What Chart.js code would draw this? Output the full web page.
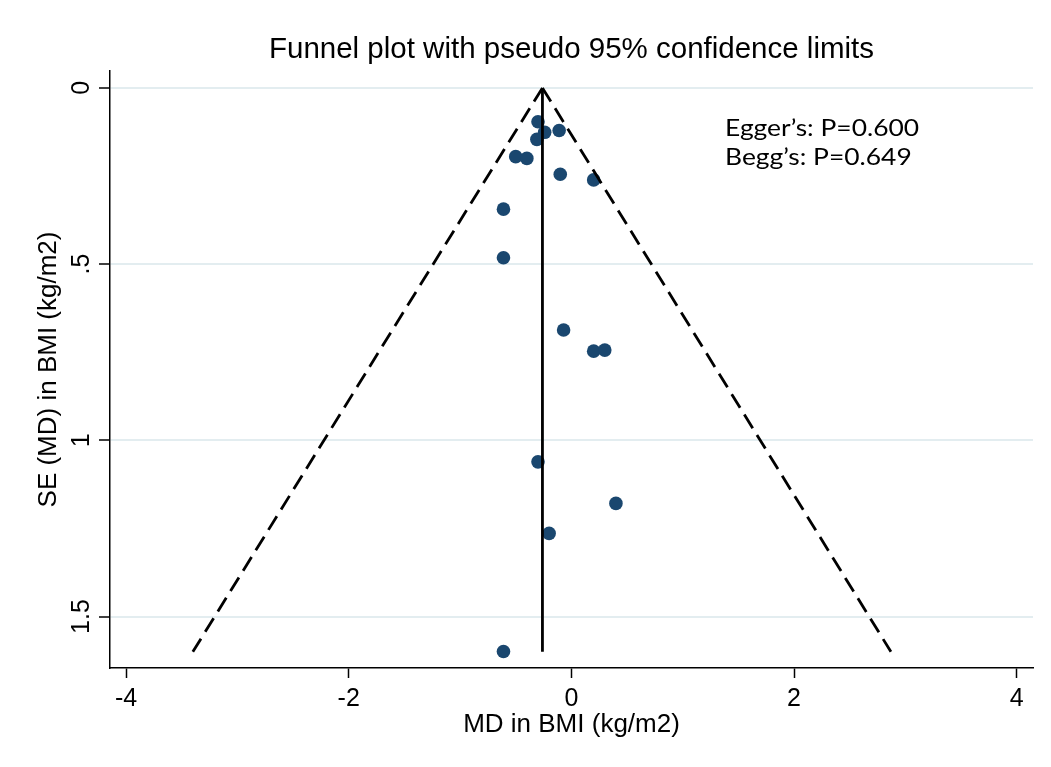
<!DOCTYPE html>
<html>
<head>
<meta charset="utf-8">
<title>Funnel plot</title>
<script src="https://cdn.jsdelivr.net/npm/chart.js@4.4.1/dist/chart.umd.min.js"></script>
<style>
  html, body { margin: 0; padding: 0; background: #fff; }
  canvas { display: block; }
</style>
</head>
<body>
<canvas id="funnelChart" width="1051" height="767"></canvas>
<script>
// study estimates (MD, SE)
const studyMD = [-0.30, -0.24, -0.11, -0.31, -0.50, -0.40, -0.10, 0.20, -0.61, -0.61, -0.07, 0.20, 0.30, -0.30, 0.40, -0.20, -0.61];
const studySE = [0.096, 0.126, 0.121, 0.146, 0.195, 0.200, 0.245, 0.261, 0.344, 0.482, 0.687, 0.747, 0.744, 1.061, 1.179, 1.264, 1.599];

// pooled estimate line and pseudo 95% limits (apex first, then bottom)
const pooledX = [-0.26, -0.26];
const pooledSE = [0, 1.6];
const lowerLimitX = [-0.26, -3.40];
const upperLimitX = [-0.26, 2.87];
const limitSE = [0, 1.6];

const xTicks = [-4, -2, 0, 2, 4];
const yTicks = [0, 0.5, 1, 1.5];
const yTickLabels = ['0', '.5', '1', '1.5'];

const testLabels = ['Egger\u2019s: P=0.600', 'Begg\u2019s: P=0.649'];

const FONT = "'Liberation Sans', Arial, sans-serif";
const DOT = '#1a476f';
const GRID = '#e3edf0';

function pairs(xs, ys) {
    return xs.map((v, i) => ({ x: v, y: ys[i] }));
}

// Egger / Begg test results, placed in data units
const testTextPlugin = {
    id: 'testText',
    afterDatasetsDraw(chart) {
        const { ctx, scales: { x, y } } = chart;
        const textX = 1.38;
        const textSE = [0.136, 0.219];
        ctx.save();
        ctx.font = "24px Lato";
        ctx.fillStyle = '#000';
        ctx.textAlign = 'left';
        ctx.textBaseline = 'alphabetic';
        testLabels.forEach((txt, i) => {
            ctx.save();
            ctx.translate(x.getPixelForValue(textX), y.getPixelForValue(textSE[i]));
            ctx.scale(1.1, 1); // the source text box is a little wide
            ctx.fillText(txt, 0, 0);
            ctx.restore();
        });
        ctx.restore();
    }
};

const lineStyle = {
    type: 'line',
    showLine: true,
    borderColor: '#000',
    borderWidth: 2.8,
    pointRadius: 0,
    fill: false,
    tension: 0
};

new Chart(document.getElementById('funnelChart').getContext('2d'), {
    type: 'scatter',
    data: {
        datasets: [
            Object.assign({ label: 'pooled', data: pairs(pooledX, pooledSE) }, lineStyle),
            Object.assign({ label: 'lower', data: pairs(lowerLimitX, limitSE), borderDash: [16, 8] }, lineStyle),
            Object.assign({ label: 'upper', data: pairs(upperLimitX, limitSE), borderDash: [16, 8] }, lineStyle),
            {
                label: 'studies',
                data: pairs(studyMD, studySE),
                pointRadius: 6.8,
                pointBackgroundColor: DOT,
                pointBorderColor: DOT,
                pointBorderWidth: 0
            }
        ]
    },
    options: {
        responsive: false,
        animation: false,
        layout: { padding: { left: 0, right: 18, top: 0, bottom: 0 } },
        plugins: {
            legend: { display: false },
            tooltip: { enabled: false },
            title: {
                display: true,
                text: 'Funnel plot with pseudo 95% confidence limits',
                fullSize: false,
                color: '#000',
                font: { family: FONT, size: 29.5, weight: 'normal', lineHeight: 1.2 },
                padding: { top: 32, bottom: 3.6 }
            }
        },
        scales: {
            x: {
                type: 'linear',
                min: -4.144,
                max: 4.146,
                afterBuildTicks: s => { s.ticks = xTicks.map(v => ({ value: v })); },
                afterFit: s => { s.height = 99; },
                border: { color: '#000', width: 1.5 },
                grid: { drawOnChartArea: false, tickLength: 10, tickColor: '#000', tickWidth: 1.5 },
                ticks: {
                    color: '#000',
                    padding: 6,
                    maxRotation: 0,
                    autoSkip: false,
                    font: { family: FONT, size: 25 }
                },
                title: {
                    display: true,
                    text: 'MD in BMI (kg/m2)',
                    color: '#000',
                    font: { family: FONT, size: 26 },
                    padding: { top: 0, bottom: 26.4 }
                }
            },
            y: {
                type: 'linear',
                reverse: true,
                min: -0.048,
                max: 1.646,
                afterBuildTicks: s => { s.ticks = yTicks.map(v => ({ value: v })); },
                afterFit: s => { s.width = 110; },
                border: { color: '#000', width: 1.5 },
                grid: { color: GRID, lineWidth: 2, tickLength: 11, tickColor: '#000', tickWidth: 1.5 },
                ticks: {
                    color: '#000',
                    padding: 0,
                    minRotation: 90,
                    maxRotation: 90,
                    autoSkip: false,
                    crossAlign: 'center',
                    font: { family: FONT, size: 25 },
                    callback: v => yTickLabels[yTicks.indexOf(v)]
                },
                title: {
                    display: true,
                    text: 'SE (MD) in BMI (kg/m2)',
                    color: '#000',
                    font: { family: FONT, size: 26 },
                    padding: { top: 33, bottom: 0 }
                }
            }
        }
    },
    plugins: [testTextPlugin]
});
</script>
</body>
</html>
